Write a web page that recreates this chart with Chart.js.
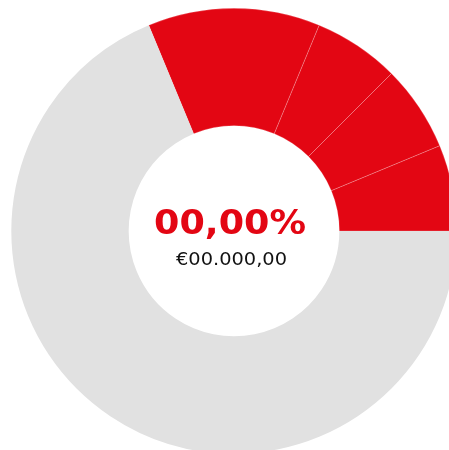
<!DOCTYPE html>
<html>
<head>
<meta charset="utf-8">
<script src="https://cdn.jsdelivr.net/npm/chart.js@4/dist/chart.umd.min.js"></script>
<style>
  html, body { margin: 0; padding: 0; background: #fff; overflow: hidden; width: 449px; height: 450px; }
  .chart-box { position: absolute; left: 11px; top: 7.5px; width: 446px; height: 446px; }
</style>
</head>
<body>
<div class="chart-box"><canvas id="myChart" width="446" height="446"></canvas></div>
<script>
const sliceLabels = ["A", "B", "C", "D", "Rest"];
const sliceValues = [2, 1, 1, 1, 11];
const sliceColors = ["#e30613", "#e30613", "#e30613", "#e30613", "#e1e1e1"];
const percentText = "00,00%";
const amountText = "€00.000,00";

// draws a line of text centred at x, stretched to a given width
function drawStretched(ctx, text, x, y, width) {
  const w = ctx.measureText(text).width;
  ctx.save();
  ctx.translate(x, y);
  ctx.scale(width / w, 1);
  ctx.fillText(text, 0, 0);
  ctx.restore();
}

const centerText = {
  id: "centerText",
  afterDraw(chart) {
    const arc = chart.getDatasetMeta(0).data[0];
    if (!arc) return;
    const ctx = chart.ctx;
    ctx.save();
    ctx.textAlign = "center";
    ctx.textBaseline = "alphabetic";
    ctx.fillStyle = "#e30613";
    ctx.font = "bold 33px 'DejaVu Sans'";
    drawStretched(ctx, percentText, arc.x - 4, arc.y + 3, 152);
    ctx.fillStyle = "#111";
    ctx.font = "17px 'DejaVu Sans'";
    drawStretched(ctx, amountText, arc.x - 2.5, arc.y + 33.5, 111);
    ctx.restore();
  }
};

const myChart = document.getElementById("myChart").getContext("2d");
const donut = new Chart(myChart, {
  type: "doughnut",
  data: {
    labels: sliceLabels,
    datasets: [{
      data: sliceValues,
      backgroundColor: sliceColors,
      borderColor: "rgba(255, 255, 255, 0.35)",
      borderWidth: [0.6, 0.6, 0.6, 0.6, 0],
    }]
  },
  options: {
    responsive: false,
    animation: false,
    cutout: "47.3%",
    rotation: -22.5,
    plugins: {
      legend: { display: false },
      tooltip: { enabled: false },
    },
  },
  plugins: [centerText],
});
</script>
</body>
</html>
